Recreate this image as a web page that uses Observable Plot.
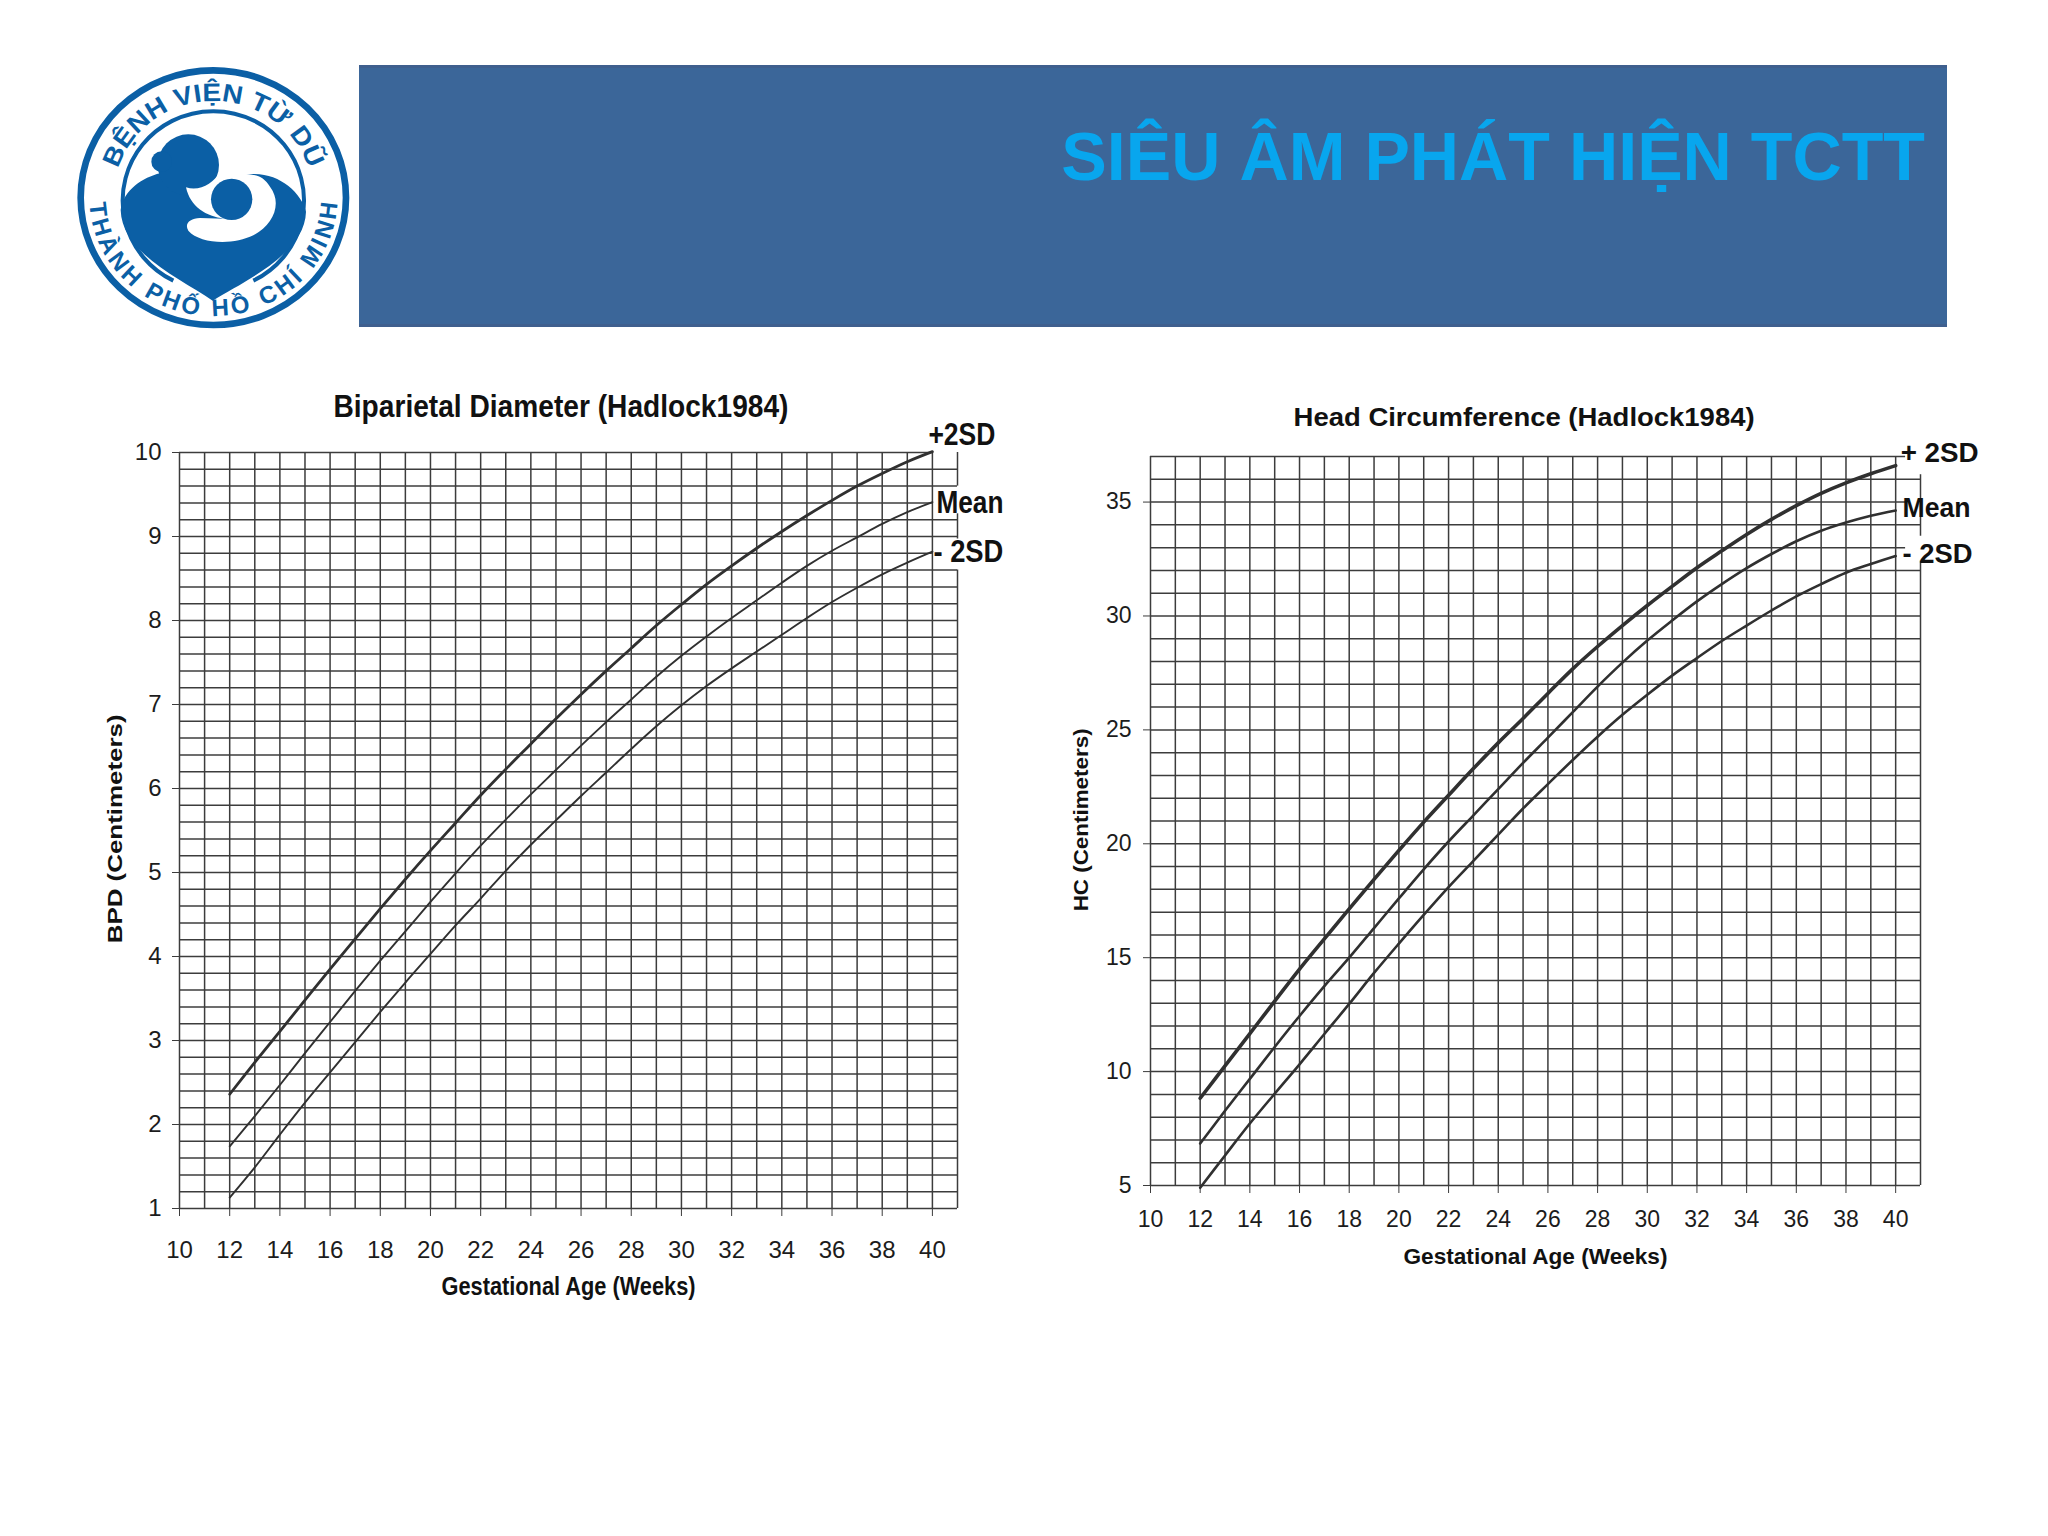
<!DOCTYPE html>
<html lang="vi">
<head>
<meta charset="utf-8">
<script src="https://cdn.jsdelivr.net/npm/d3@7"></script>
<script src="https://cdn.jsdelivr.net/npm/@observablehq/plot@0.6"></script>
<style>
  html,body{margin:0;padding:0;background:#fff;font-family:"Liberation Sans",Arial,sans-serif}
  #page{position:relative;width:2048px;height:1536px;overflow:hidden;background:#fff}
  #band{position:absolute;left:359px;top:65px;width:1588px;height:262px;background:#3b6699;box-sizing:border-box;border-top:3px solid #3f5f8e;border-bottom:3px solid #3f5f8e}
  #headline{position:absolute;right:123px;top:116px;margin:0;font:bold 68.2px "Liberation Sans",Arial,sans-serif;color:#08a6ee;white-space:nowrap;line-height:80px}
  #logo{position:absolute;left:60px;top:40px;width:400px;height:320px}
  .panel{position:absolute}
</style>
</head>
<body>
<div id="page">
  <svg id="logo" viewBox="0 0 1200 960" xmlns="http://www.w3.org/2000/svg">
    <defs>
      <path id="arcTop" d="M 160 473 A 300 290 0 0 1 760 473"/>
      <path id="arcBot" d="M 88 473 A 372 355 0 0 0 832 473"/>
    </defs>
    <g fill="none" stroke="#0b5fa5">
      <ellipse cx="460" cy="473" rx="398" ry="382" stroke-width="20"/>
      <path d="M 340 722 A 272 268 0 1 1 580 722" stroke-width="12"/>
    </g>
    <g fill="#0b5fa5">
      <path d="M458 782C360 715 186 640 182 510C190 450 250 412 300 400L450 420L580 402C660 400 725 460 738 515C735 640 560 720 458 782Z"/>
      <circle cx="385" cy="375" r="92"/>
      <circle cx="305" cy="365" r="31"/>
      <path fill="#fff" d="M378 442C390 500 440 530 492 536L420 534C390 534 372 552 385 572C420 612 520 616 580 586C640 555 668 490 630 440C615 415 595 404 572 404L480 395C460 430 420 455 378 442Z"/>
      <circle cx="515" cy="478" r="62"/>
      <text font-family="Liberation Sans" font-weight="700" font-size="76" text-anchor="middle"><textPath href="#arcTop" startOffset="50%" textLength="750" lengthAdjust="spacingAndGlyphs">BỆNH VIỆN TỪ DŨ</textPath></text>
      <text font-family="Liberation Sans" font-weight="700" font-size="72" text-anchor="middle"><textPath href="#arcBot" startOffset="50%" textLength="1110" lengthAdjust="spacing">THÀNH PHỐ HỒ CHÍ MINH</textPath></text>
    </g>
  </svg>
  <div id="band"></div>
  <h1 id="headline">SIÊU ÂM PHÁT HIỆN TCTT</h1>
</div>
<script>
const weeks = d3.range(12, 41);
const axisWeeks = d3.range(10, 41, 2);
const gridWeeks = d3.range(10, 41);

const bpdPlus = [2.36,2.74,3.11,3.48,3.85,4.21,4.57,4.92,5.26,5.59,5.92,6.23,6.53,6.83,7.12,7.40,7.67,7.94,8.19,8.43,8.65,8.86,9.06,9.25,9.43,9.60,9.75,9.89,10.01];
const bpdMean = [1.74,2.10,2.47,2.85,3.22,3.59,3.95,4.30,4.65,4.99,5.32,5.63,5.93,6.22,6.51,6.79,7.06,7.33,7.58,7.81,8.03,8.24,8.45,8.65,8.83,8.99,9.15,9.29,9.41];
const bpdMinus = [1.13,1.49,1.88,2.26,2.62,2.98,3.34,3.69,4.03,4.37,4.69,5.02,5.33,5.62,5.91,6.19,6.47,6.74,6.99,7.22,7.43,7.63,7.83,8.03,8.22,8.39,8.55,8.69,8.82];

const hcPlus = [8.83,10.25,11.67,13.09,14.5,15.83,17.14,18.44,19.71,20.95,22.13,23.3,24.43,25.5,26.6,27.68,28.66,29.58,30.46,31.3,32.12,32.86,33.58,34.24,34.84,35.38,35.84,36.24,36.6];
const hcMean = [6.84,8.28,9.68,11.08,12.44,13.75,15.0,16.3,17.6,18.88,20.1,21.25,22.4,23.55,24.66,25.78,26.9,27.95,28.92,29.8,30.64,31.4,32.1,32.72,33.28,33.74,34.1,34.4,34.63];
const hcMinus = [4.9,6.32,7.72,9.03,10.32,11.65,12.97,14.33,15.62,16.88,18.1,19.25,20.4,21.55,22.62,23.68,24.7,25.66,26.54,27.38,28.15,28.9,29.58,30.24,30.86,31.4,31.9,32.28,32.63];

const bpdRows = d3.range(1, 10.01, 0.2).map(v => +v.toFixed(1));
const bpdTicks = d3.range(1, 11);
const hcRows = d3.range(5, 38);
const hcTicks = d3.range(5, 36, 5);

const GRID = "#3c3c3c", INK = "#303030", TEXT = "#1c1c1c", GW = 1.5;

function panel(o) {
  const rows = o.rows.map(v => ({v, end: o.shortRows.includes(v) ? 40 + o.shortBy : 41}));
  const wrap = document.createElement("div");
  wrap.className = "panel";
  wrap.style.left = o.left + "px";
  wrap.style.top = o.top + "px";
  const textOpts = {x: "x", y: "y", text: "t", fontSize: "size", fontWeight: "bold", fill: "#111"};
  const fig = Plot.plot({
    width: o.width, height: o.height,
    marginLeft: o.margins[0], marginRight: o.margins[1], marginTop: o.margins[2], marginBottom: o.margins[3],
    style: {background: "transparent", fontFamily: '"Liberation Sans",Arial,sans-serif', overflow: "visible"},
    x: {domain: [10, 41]},
    y: {domain: o.yDomain},
    marks: [
      Plot.ruleY(rows, {y: "v", x1: 10, x2: "end", stroke: GRID, strokeWidth: GW}),
      Plot.ruleX(gridWeeks, {x: d => d, y1: o.yDomain[0], y2: o.yDomain[1], stroke: GRID, strokeWidth: GW}),
      Plot.ruleX(o.rightEdge, {x: 41, y1: "from", y2: "to", stroke: GRID, strokeWidth: GW}),
      Plot.axisX({ticks: axisWeeks, tickSize: 8, tickPadding: o.xPad, fontSize: o.tickFont, label: null, stroke: GRID, fill: TEXT, tickFormat: d => d}),
      Plot.axisY({ticks: o.yTicks, tickSize: 7, tickPadding: o.yPad, fontSize: o.tickFont, label: null, stroke: GRID, fill: TEXT, tickFormat: d => d}),
      ...o.series.map(s => Plot.line(weeks.map((w, i) => ({w, v: s.values[i]})), {x: "w", y: "v", stroke: INK, strokeWidth: s.width, curve: "catmull-rom"})),
      Plot.text(o.titles, {...textOpts, textAnchor: "middle"}),
      Plot.text(o.yLabel, {...textOpts, textAnchor: "middle", rotate: -90}),
      Plot.text(o.endLabels, {...textOpts, textAnchor: "start"})
    ]
  });
  const all = [...o.titles, ...o.yLabel, ...o.endLabels];
  const lens = new Map(all.map(l => [l.t, l.len]));
  fig.querySelectorAll("text").forEach(t => {
    const n = lens.get(t.textContent);
    if (n) { t.setAttribute("textLength", n); t.setAttribute("lengthAdjust", "spacingAndGlyphs"); }
  });
  wrap.append(fig);
  document.getElementById("page").append(wrap);
}

panel({
  left: 90, top: 380, width: 950, height: 950, margins: [89, 83, 72, 122],
  yDomain: [1, 10], rows: bpdRows, shortRows: [10, 9.4, 8.8], shortBy: 0, yTicks: bpdTicks,
  rightEdge: [{from: 9.6, to: 10}, {from: 8.97, to: 9.27}, {from: 1, to: 8.6}],
  tickFont: 24, xPad: 24, yPad: 11,
  series: [{values: bpdPlus, width: 2.8}, {values: bpdMean, width: 1.9}, {values: bpdMinus, width: 1.9}],
  titles: [
    {t: "Biparietal Diameter (Hadlock1984)", x: 25.2, y: 10.54, size: 32, len: 455},
    {t: "Gestational Age (Weeks)", x: 25.5, y: 0.06, size: 25, len: 254}
  ],
  yLabel: [{t: "BPD (Centimeters)", x: 7.45, y: 5.52, size: 21, len: 229}],
  endLabels: [
    {t: "+2SD", x: 39.84, y: 10.21, size: 31, len: 67},
    {t: "Mean", x: 40.16, y: 9.40, size: 31, len: 67},
    {t: "- 2SD", x: 40.04, y: 8.81, size: 31, len: 70}
  ]
});

panel({
  left: 1040, top: 390, width: 960, height: 890, margins: [110, 80, 66, 95],
  yDomain: [5, 37], rows: hcRows, shortRows: [37, 35, 33], shortBy: 0.4, yTicks: hcTicks,
  rightEdge: [{from: 33.5, to: 36.2}, {from: 5, to: 32.4}],
  tickFont: 23, xPad: 17, yPad: 12,
  series: [{values: hcPlus, width: 3.6}, {values: hcMean, width: 2.6}, {values: hcMinus, width: 2.6}],
  titles: [
    {t: "Head Circumference (Hadlock1984)", x: 25.04, y: 38.7, size: 26, len: 461},
    {t: "Gestational Age (Weeks)", x: 25.5, y: 1.85, size: 22, len: 264}
  ],
  yLabel: [{t: "HC (Centimeters)", x: 7.22, y: 21.05, size: 20, len: 183}],
  endLabels: [
    {t: "+ 2SD", x: 40.2, y: 37.15, size: 28, len: 78},
    {t: "Mean", x: 40.28, y: 34.74, size: 28, len: 68},
    {t: "- 2SD", x: 40.28, y: 32.72, size: 28, len: 70}
  ]
});
</script>
</body>
</html>
